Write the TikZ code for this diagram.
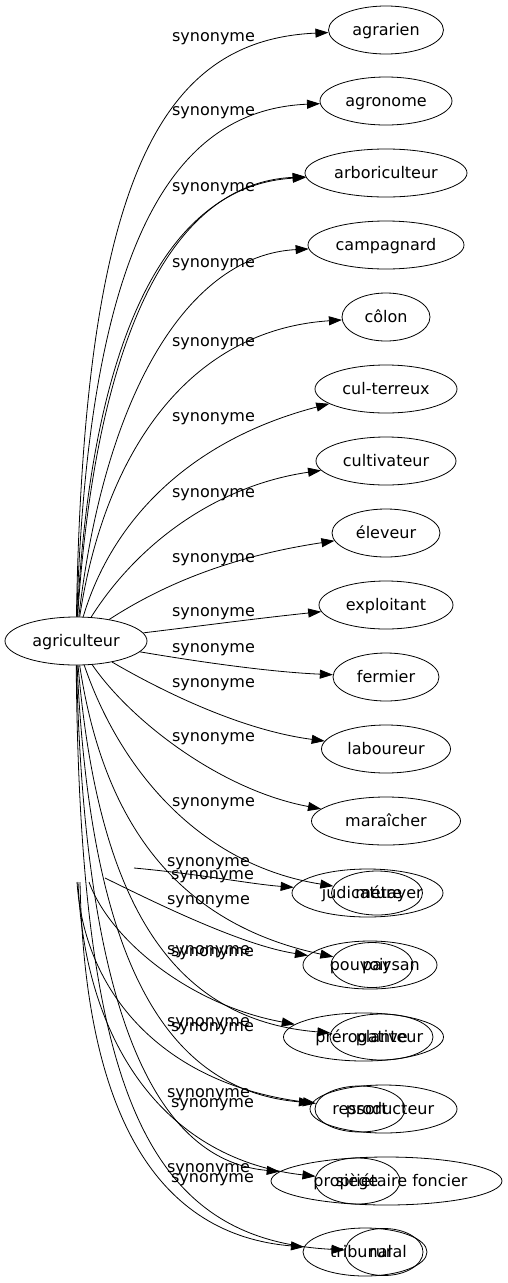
\documentclass[tikz,border=0pt]{standalone}
\usepackage{fontspec}
\setmainfont{DejaVu Sans}
\usetikzlibrary{arrows.meta,shapes.geometric}

\begin{document}
\begin{tikzpicture}[x=1pt,y=-1pt,
  word/.style={draw,ellipse,line width=0.8pt,inner sep=0pt,minimum height=48pt,
    text height=10pt,text depth=0pt,font=\fontsize{16}{19}\selectfont},
  wordtext/.style={inner sep=0pt,text height=10pt,text depth=0pt,font=\fontsize{16}{19}\selectfont},
  tag/.style={inner sep=0pt,text height=9pt,text depth=0pt,font=\fontsize{16}{19}\selectfont},
  syn/.style={-{Triangle[length=13pt,width=9pt]},line width=0.8pt}]
\useasboundingbox (0,0) rectangle (507,1283);

% source
\node[word,minimum width=142pt] (agri) at (76,641) {agriculteur};

% right column
\node[word,minimum width=115pt] (agrarien) at (386,30) {agrarien};
\node[word,minimum width=132pt] (agronome) at (386,101) {agronome};
\node[word,minimum width=162pt] (arbo) at (386,173) {arboriculteur};
\node[word,minimum width=156pt] (campa) at (386,245) {campagnard};
\node[word,minimum width=88pt] (colon) at (386,317) {côlon};
\node[word,minimum width=142pt] (culter) at (386,389) {cul-terreux};
\node[word,minimum width=140pt] (culti) at (386,461) {cultivateur};
\node[word,minimum width=108pt] (eleveur) at (386,533) {éleveur};
\node[word,minimum width=134pt] (exploit) at (386,605) {exploitant};
\node[word,minimum width=106pt] (fermier) at (386,677) {fermier};
\node[word,minimum width=129pt] (labour) at (386,749) {laboureur};
\node[word,minimum width=149pt] (mara) at (386,821) {maraîcher};

% overlapping pairs
\node[word,minimum width=151pt] (judic) at (367.5,893) {};
\node[word,minimum width=91pt,minimum height=44pt] (metayer) at (377,893) {};
\node[wordtext] (judic-t) at (362,893) {judicature};
\node[wordtext] (metayer-t) at (389,893) {métayer};

\node[word,minimum width=134pt] (pouvoir) at (370,965) {};
\node[word,minimum width=82pt,minimum height=45pt] (paysan) at (372,965) {};
\node[wordtext] (pouvoir-t) at (360,965) {pouvoir};
\node[wordtext] (paysan-t) at (391,965) {paysan};

\node[word,minimum width=160pt] (prerog) at (363.5,1037) {};
\node[word,minimum width=103pt,minimum height=46pt] (planteur) at (381.5,1037) {};
\node[wordtext] (prerog-t) at (361.5,1037) {prérogative};
\node[wordtext] (planteur-t) at (389.5,1037) {planteur};

\node[word,minimum width=147pt] (product) at (383.5,1109) {};
\node[word,minimum width=90pt,minimum height=46pt] (ressort) at (360,1109) {};
\node[wordtext] (ressort-t) at (360,1109) {ressort};
\node[wordtext] (product-t) at (390,1109) {producteur};

\node[word,minimum width=231pt] (proprio) at (386.5,1181) {};
\node[word,minimum width=85pt,minimum height=46pt] (siege) at (357.5,1181) {};
\node[wordtext] (siege-t) at (357,1181) {siège};
\node[wordtext] (proprio-t) at (390.5,1181) {propriétaire foncier};

\node[word,minimum width=124pt] (tribunal) at (365,1252) {};
\node[word,minimum width=78pt,minimum height=47pt] (rural) at (384,1252) {};
\node[wordtext] (tribunal-t) at (361,1252) {tribunal};
\node[wordtext] (rural-t) at (388,1252) {rural};

% loose ends of the second fan
\coordinate (j1) at (134,868);
\coordinate (j2) at (105,878);
\coordinate (j3) at (89,882);
\coordinate (j4) at (77,882);
\coordinate (j5) at (78,882);
\coordinate (j6) at (80,882);

% edges, upper fan
\draw[syn] (agri) .. controls (84,180) and (160,40) .. (agrarien);
\draw[syn] (agri) .. controls (88,260) and (165,110) .. (agronome);
\draw[syn] (agri) .. controls (92,330) and (170,185) .. (arbo);
\draw[syn] (agri) .. controls (96,335) and (172,183) .. (arbo);
\draw[syn] (agri) .. controls (105,390) and (190,255) .. (campa);
\draw[syn] (agri) .. controls (105,450) and (190,330) .. (colon);
\draw[syn] (agri) .. controls (112,520) and (190,440) .. (culter);
\draw[syn] (agri) .. controls (140,540) and (220,485) .. (culti);
\draw[syn] (agri) .. controls (170,580) and (240,555) .. (eleveur);
\draw[syn] (agri) .. controls (200,626) and (260,618) .. (exploit);
\draw[syn] (agri) .. controls (200,662) and (270,672) .. (fermier);
\draw[syn] (agri) .. controls (160,690) and (240,730) .. (labour);
\draw[syn] (agri) .. controls (130,720) and (220,790) .. (mara);

% edges, lower fan
\draw[syn] (agri) .. controls (120,770) and (200,865) .. (metayer);
\draw[syn] (agri) .. controls (100,800) and (160,920) .. (paysan);
\draw[syn] (agri) .. controls (98,900) and (170,1020) .. (planteur);
\draw[syn] (agri) .. controls (90,950) and (160,1090) .. (product);
\draw[syn] (agri) .. controls (84,1000) and (150,1160) .. (proprio);
\draw[syn] (agri) .. controls (80,1100) and (150,1240) .. (rural);

% edges of the second fan
\draw[syn] (j1) .. controls (200,874) and (250,884) .. (judic);
\draw[syn] (j2) .. controls (150,900) and (240,945) .. (pouvoir);
\draw[syn] (j3) .. controls (110,940) and (190,1005) .. (prerog);
\draw[syn] (j4) .. controls (85,1000) and (170,1085) .. (ressort);
\draw[syn] (j5) .. controls (85,1050) and (170,1160) .. (siege);
\draw[syn] (j6) .. controls (85,1120) and (160,1235) .. (tribunal);

% labels
\node[tag] (s1) at (213.5,37) {synonyme};
\node[tag] (s2) at (213.5,111) {synonyme};
\node[tag] (s3) at (213.5,187) {synonyme};
\node[tag] (s4) at (213.5,263) {synonyme};
\node[tag] (s5) at (213.5,342) {synonyme};
\node[tag] (s6) at (213.5,417) {synonyme};
\node[tag] (s7) at (213.5,493) {synonyme};
\node[tag] (s8) at (213.5,558) {synonyme};
\node[tag] (s9) at (213.5,612) {synonyme};
\node[tag] (s10) at (213.5,648) {synonyme};
\node[tag] (s11) at (213.5,683) {synonyme};
\node[tag] (s12) at (213.5,737) {synonyme};
\node[tag] (s13) at (213.5,802) {synonyme};
\node[tag] (s14) at (208.5,862) {synonyme};
\node[tag] (s15) at (212.5,875) {synonyme};
\node[tag] (s16) at (208.5,900) {synonyme};
\node[tag] (s17) at (208.5,950) {synonyme};
\node[tag] (s18) at (212.5,952) {synonyme};
\node[tag] (s19) at (208.5,1022) {synonyme};
\node[tag] (s20) at (212.5,1027) {synonyme};
\node[tag] (s21) at (208.5,1093) {synonyme};
\node[tag] (s22) at (212.5,1103) {synonyme};
\node[tag] (s23) at (208.5,1168) {synonyme};
\node[tag] (s24) at (212.5,1178) {synonyme};
\end{tikzpicture}
\end{document}
